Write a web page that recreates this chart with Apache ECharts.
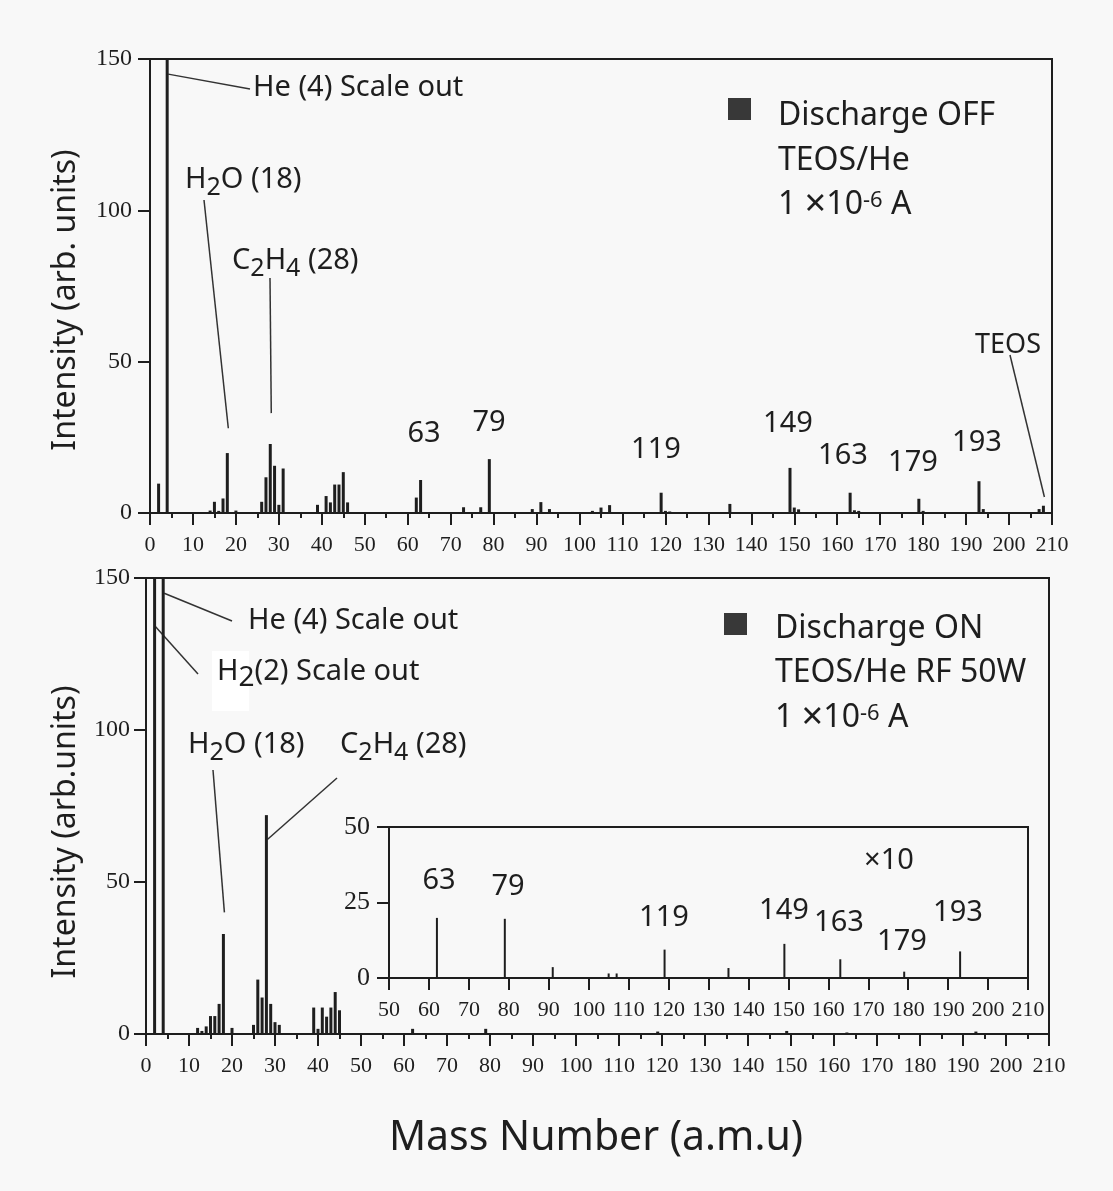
<!DOCTYPE html>
<html>
<head>
<meta charset="utf-8">
<title>TEOS/He mass spectra</title>
<script src="https://cdn.jsdelivr.net/npm/echarts@6/dist/echarts.min.js"></script>
<style>
  html, body { margin: 0; padding: 0; background: #f8f8f8; }
  #main { width: 1113px; height: 1191px; }
</style>
</head>
<body>
<div id="main"></div>
<script>
// upper panel: discharge OFF (mass number / intensity)
var offMass = [2, 4, 14, 15, 16, 17, 18, 20, 26, 27, 28, 29, 30, 31, 39, 41, 42, 43, 44, 45, 46,
  62, 63, 73, 77, 79, 89, 91, 93, 103, 105, 107, 119, 120, 121, 135,
  149, 150, 151, 163, 164, 165, 179, 180, 193, 194, 207, 208];
var offInt = [9.7, 150, 0.8, 3.7, 0.7, 4.8, 19.8, 0.8, 3.7, 11.8, 22.8, 15.6, 2.7, 14.7, 2.7, 5.6, 3.5, 9.4, 9.4, 13.5, 3.5,
  5.1, 10.9, 1.9, 1.9, 17.8, 1.3, 3.6, 1.3, 0.7, 1.8, 2.6, 6.7, 0.7, 0.5, 3.0,
  14.9, 1.8, 1.2, 6.7, 0.9, 0.7, 4.7, 0.7, 10.5, 1.3, 1.3, 2.4];

// lower panel: discharge ON (H2 and He run off scale, drawn to the frame)
var onMass = [2, 4, 12, 13, 14, 15, 16, 17, 18, 20, 25, 26, 27, 28, 29, 30, 31,
  39, 40, 41, 42, 43, 44, 45, 62, 79, 119, 149, 163, 193];
var onInt = [150, 150, 2.0, 1.0, 2.5, 5.9, 5.9, 9.9, 32.9, 2.0, 3.0, 17.9, 12.0, 72, 9.9, 3.9, 3.0,
  8.7, 1.7, 8.7, 5.7, 8.7, 13.8, 7.8, 1.7, 1.7, 0.8, 1.0, 0.5, 0.8];

// inset (x10)
var insetMass = [62, 79, 91, 105, 107, 119, 135, 149, 163, 179, 193];
var insetInt = [19.9, 19.6, 3.6, 1.5, 1.5, 9.4, 3.3, 11.3, 6.2, 2.1, 8.8];

var offPeaks = ['63', '79', '119', '149', '163', '179', '193'];
var insetPeaks = ['63', '79', '119', '149', '163', '179', '193'];

var SERIF = '"Liberation Serif", "Times New Roman", serif';
var SANS = '"Noto Sans", "DejaVu Sans", sans-serif';
var INK = '#1e1e1e';

var chart = echarts.init(document.getElementById('main'));

function pairs(xs, ys) {
  return xs.map(function (x, i) { return [x, ys[i]]; });
}

function gridBox(left, top, width, height) {
  return {
    left: left, top: top, width: width, height: height,
    show: true, borderColor: INK, borderWidth: 2, backgroundColor: 'transparent',
    containLabel: false, outerBoundsMode: 'none'
  };
}

function massAxis(grid, min, fontSize, minor) {
  return {
    type: 'value', gridIndex: grid, min: min, max: 210, interval: 10,
    axisLine: { show: true, onZero: false, lineStyle: { color: INK, width: 2 } },
    axisTick: { show: true, inside: false, length: 12, lineStyle: { color: INK, width: 2 } },
    minorTick: { show: minor, splitNumber: 2, length: 5, lineStyle: { color: INK, width: 2 } },
    axisLabel: { margin: 21, color: INK, fontFamily: SERIF, fontSize: fontSize },
    splitLine: { show: false }, minorSplitLine: { show: false }
  };
}

function intAxis(grid, max, interval, fontSize, margin) {
  return {
    type: 'value', gridIndex: grid, min: 0, max: max, interval: interval,
    axisLine: { show: true, onZero: false, lineStyle: { color: INK, width: 2 } },
    axisTick: { show: true, inside: false, length: 12, lineStyle: { color: INK, width: 2 } },
    axisLabel: { margin: margin, color: INK, fontFamily: SERIF, fontSize: fontSize },
    splitLine: { show: false }
  };
}

function sticks(grid, data, width) {
  return {
    type: 'bar', xAxisIndex: grid, yAxisIndex: grid, data: data,
    barWidth: width, clip: true, silent: true,
    itemStyle: { color: INK }
  };
}

var option = {
  backgroundColor: '#f8f8f8',
  animation: false,
  grid: [
    gridBox(150, 59, 902, 454),
    gridBox(146, 578, 903, 456),
    gridBox(389, 827, 639, 151)
  ],
  xAxis: [
    massAxis(0, 0, 22, true),
    massAxis(1, 0, 22, true),
    massAxis(2, 50, 22, false)
  ],
  yAxis: [
    intAxis(0, 150, 50, 24, 18),
    intAxis(1, 150, 50, 24, 16),
    intAxis(2, 50, 25, 26, 19)
  ],
  series: [
    sticks(0, pairs(offMass, offInt), 3),
    sticks(1, pairs(onMass, onInt), 3),
    sticks(2, pairs(insetMass, insetInt), 2)
  ]
};
chart.setOption(option);

// annotation helpers
function txt(x, y, text, size, align) {
  return {
    type: 'text', x: x, y: y, silent: true,
    style: {
      text: text, fill: INK, font: size + 'px ' + SANS,
      align: align || 'left', textAlign: align || 'left',
      verticalAlign: 'middle', textVerticalAlign: 'middle'
    }
  };
}

function richTxt(x, y, text, size, subSize, subPad) {
  var el = txt(x, y, text, size, 'left');
  el.style.rich = {
    n: { fontSize: size, fontFamily: SANS, fill: INK },
    x: { fontSize: size + 6, fontFamily: SANS, fill: INK },
    s: { fontSize: subSize, fontFamily: SANS, fill: INK, padding: subPad }
  };
  return el;
}

function square(x, y) {
  return { type: 'rect', silent: true, shape: { x: x, y: y, width: 23, height: 22 }, style: { fill: '#383838' } };
}

// leader lines: [grid, mass, intensity where the line meets the bar, label-side x, label-side y]
var leaders = [
  [0, 4, 145, 250, 89],
  [0, 18, 28, 204, 200],
  [0, 28, 33, 270, 278],
  [0, 208, 5.3, 1010, 355],
  [1, 4, 145, 232, 621],
  [1, 2, 134, 198, 674],
  [1, 18, 40, 213, 770],
  [1, 28, 64, 337, 778]
];

var g = [];

// white patch behind "H2" in the lower panel
g.push({ type: 'rect', silent: true, shape: { x: 212, y: 651, width: 37, height: 60 }, style: { fill: '#ffffff' } });

leaders.forEach(function (l) {
  var p = chart.convertToPixel({ gridIndex: l[0] }, [l[1], l[2]]);
  g.push({
    type: 'line', silent: true,
    shape: { x1: p[0] + 1, y1: p[1], x2: l[3], y2: l[4] },
    style: { stroke: '#333', lineWidth: 1.5 }
  });
});

// axis titles
var yTitleTop = txt(66, 300, 'Intensity (arb. units)', 32, 'center');
yTitleTop.rotation = Math.PI / 2;
var yTitleBot = txt(66, 832, 'Intensity (arb.units)', 32, 'center');
yTitleBot.rotation = Math.PI / 2;
g.push(yTitleTop, yTitleBot);
g.push(txt(596, 1138, 'Mass Number (a.m.u)', 41, 'center'));

// upper panel labels
g.push(txt(253, 88, 'He (4) Scale out', 29));
g.push(richTxt(185, 180, '{n|H}{s|2}{n|O (18)}', 29, 25, [16, 0, 0, 0]));
g.push(richTxt(232, 261, '{n|C}{s|2}{n|H}{s|4}{n| (28)}', 29, 25, [16, 0, 0, 0]));
var offPos = [[424, 434], [489, 423], [656, 450], [788, 424], [843, 456], [913, 463], [977, 443]];
offPeaks.forEach(function (t, i) { g.push(txt(offPos[i][0], offPos[i][1], t, 29, 'center')); });
g.push(txt(1008, 345, 'TEOS', 27, 'center'));

g.push(square(728, 98));
g.push(txt(778, 116, 'Discharge OFF', 32));
g.push(txt(778, 161, 'TEOS/He', 32));
g.push(richTxt(778, 205, '{n|1 }{x|\u00d7}{n|10}{s|-6}{n| A}', 32, 22, [0, 0, 8, 0]));

// lower panel labels
g.push(txt(248, 621, 'He (4) Scale out', 29));
g.push(richTxt(217, 672, '{n|H}{s|2}{n|(2) Scale out}', 29, 28, [12, 0, 0, 0]));
g.push(richTxt(188, 745, '{n|H}{s|2}{n|O (18)}', 29, 25, [16, 0, 0, 0]));
g.push(richTxt(340, 745, '{n|C}{s|2}{n|H}{s|4}{n| (28)}', 29, 25, [16, 0, 0, 0]));

g.push(square(724, 613));
g.push(txt(775, 629, 'Discharge ON', 32));
g.push(txt(775, 673, 'TEOS/He RF 50W', 32));
g.push(richTxt(775, 718, '{n|1 }{x|\u00d7}{n|10}{s|-6}{n| A}', 32, 22, [0, 0, 8, 0]));

// inset labels
var insetPos = [[439, 881], [508, 887], [664, 918], [784, 911], [839, 923], [902, 942], [958, 913]];
insetPeaks.forEach(function (t, i) { g.push(txt(insetPos[i][0], insetPos[i][1], t, 29, 'center')); });
g.push(txt(889, 861, '\u00d710', 29, 'center'));

chart.setOption({ graphic: g });
</script>
</body>
</html>
